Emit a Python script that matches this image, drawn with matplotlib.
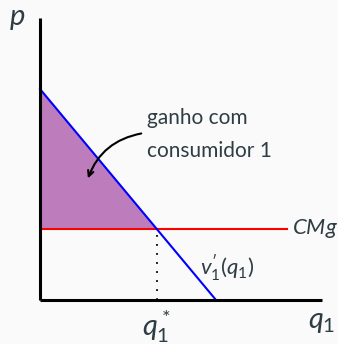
import numpy as np
import matplotlib
matplotlib.use("Agg")
import matplotlib.pyplot as plt

# conceptual chart: demand v1'(q1) and marginal cost CMg
p_max = 282        # top of price axis
q_max = 282        # end of quantity axis
demand_p0 = 211    # demand intercept on p axis
demand_q0 = 176    # demand intercept on q axis
cmg = 71           # marginal cost level
cmg_end = 247      # where the CMg line stops

q_star = demand_q0 * (1 - cmg / demand_p0)

plt.rcParams['font.family'] = ['Lato', 'DejaVu Sans']
plt.rcParams['mathtext.fontset'] = 'custom'
plt.rcParams['mathtext.rm'] = 'Lato'
plt.rcParams['mathtext.it'] = 'Lato:italic'
txt = '#2e3d44'

fig = plt.figure(figsize=(3.38, 3.44), dpi=100, facecolor='#fafafa')
ax = fig.add_axes([0, 0, 1, 1])
ax.set_facecolor('#fafafa')
ax.set_xlim(-40, 298)
ax.set_ylim(-44, 300)
ax.axis('off')

# surplus triangle
ax.fill([0, 0, q_star], [demand_p0, cmg, cmg], color='#bd7dbd', lw=0, zorder=1)

# axes
ax.plot([0, 0], [0, p_max], color='black', lw=2.2, zorder=3, solid_capstyle='butt')
ax.plot([0, q_max], [0, 0], color='black', lw=2.2, zorder=3, solid_capstyle='butt')

# curves
ax.plot([0, cmg_end], [cmg, cmg], color='#ff0000', lw=1.5, zorder=2)
ax.plot([0, demand_q0], [demand_p0, 0], color='#0000ff', lw=1.5, zorder=2)
ax.plot([q_star, q_star], [0, cmg], color='black', lw=1.3, ls=(0, (1, 4)), zorder=2)

# labels
ax.text(-23, 281, r'$p$', fontsize=21, color=txt, ha='center', va='center')
ax.text(q_max, -22, r'$q_1$', fontsize=21, color=txt, ha='center', va='center')
ax.text(q_star, -26, r'$q_1^*$', fontsize=21, color=txt, ha='center', va='center')
ax.text(cmg_end + 5, cmg, r'$CMg$', fontsize=16, color=txt, ha='left', va='center')
ax.text(160, 32, r"$v_1'(q_1)$", fontsize=16, color=txt, ha='left', va='center')
ax.text(107, 182, 'ganho com', fontsize=15, color=txt, ha='left', va='center')
ax.text(107, 149, 'consumidor 1', fontsize=15, color=txt, ha='left', va='center')

ax.annotate('', xy=(47, 119), xytext=(104, 167),
            arrowprops=dict(arrowstyle='->', color='black', lw=1.5,
                            connectionstyle='arc3,rad=0.3'), zorder=4)

fig.savefig('out.png', facecolor=fig.get_facecolor())
